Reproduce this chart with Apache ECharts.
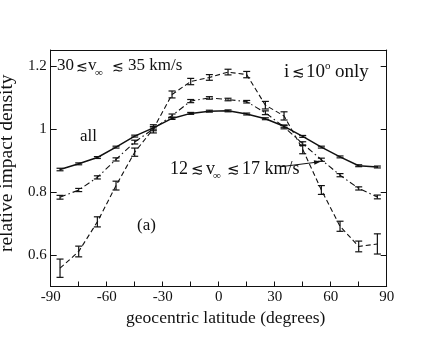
<!DOCTYPE html>
<html>
<head>
<meta charset="utf-8">
<script src="https://cdn.jsdelivr.net/npm/echarts@6/dist/echarts.min.js"></script>
<style>
  html, body { margin: 0; padding: 0; background: #fff; }
  #main { width: 436px; height: 337px; }
</style>
</head>
<body>
<div id="main"></div>
<script>
// latitude bins (degrees)
var lat = [-85, -75, -65, -55, -45, -35, -25, -15, -5, 5, 15, 25, 35, 45, 55, 65, 75, 85];

// "all" (solid)
var allVals = [0.871, 0.889, 0.909, 0.942, 0.977, 1.003, 1.033, 1.049, 1.056, 1.057, 1.047, 1.032, 1.008, 0.976, 0.942, 0.911, 0.883, 0.879];
var allErr  = [0.004, 0.003, 0.003, 0.003, 0.003, 0.004, 0.003, 0.003, 0.003, 0.003, 0.003, 0.003, 0.003, 0.003, 0.003, 0.003, 0.003, 0.003];

// 12 < v < 17 km/s (dash-dot)
var lowVals = [0.783, 0.806, 0.846, 0.903, 0.958, 1.000, 1.042, 1.088, 1.098, 1.093, 1.086, 1.051, 1.006, 0.953, 0.902, 0.853, 0.811, 0.784];
var lowErr  = [0.006, 0.005, 0.005, 0.005, 0.006, 0.006, 0.005, 0.005, 0.004, 0.004, 0.004, 0.006, 0.006, 0.006, 0.005, 0.005, 0.005, 0.006];

// 30 < v < 35 km/s (dashed)
var highVals = [0.558, 0.611, 0.705, 0.820, 0.926, 1.000, 1.109, 1.150, 1.163, 1.180, 1.172, 1.075, 1.041, 0.935, 0.806, 0.691, 0.627, 0.635];
var highErr  = [0.029, 0.017, 0.016, 0.014, 0.013, 0.013, 0.011, 0.010, 0.009, 0.009, 0.010, 0.012, 0.013, 0.014, 0.014, 0.016, 0.017, 0.032];

var yTicks = [0.6, 0.8, 1.0, 1.2];

var FONT = 'Liberation Serif, Times New Roman, serif';
var INK = '#111';

function pairs(vals) {
  return lat.map(function (x, i) { return [x, vals[i]]; });
}

// error bars via custom series
function errBars(vals, errs) {
  return {
    type: 'custom',
    silent: true,
    z: 4,
    data: lat.map(function (x, i) { return [x, vals[i] - errs[i], vals[i] + errs[i]]; }),
    encode: { x: 0, y: [1, 2] },
    renderItem: function (params, api) {
      var lo = api.coord([api.value(0), api.value(1)]);
      var hi = api.coord([api.value(0), api.value(2)]);
      var w = 3.5;
      var st = { stroke: INK, lineWidth: 1.2 };
      return {
        type: 'group',
        children: [
          { type: 'line', shape: { x1: lo[0], y1: lo[1], x2: hi[0], y2: hi[1] }, style: st },
          { type: 'line', shape: { x1: lo[0] - w, y1: lo[1], x2: lo[0] + w, y2: lo[1] }, style: st },
          { type: 'line', shape: { x1: hi[0] - w, y1: hi[1], x2: hi[0] + w, y2: hi[1] }, style: st }
        ]
      };
    }
  };
}

function lineSeries(vals, dash, width) {
  return {
    type: 'line',
    data: pairs(vals),
    symbol: 'none',
    silent: true,
    z: 3,
    lineStyle: { color: INK, width: width, type: dash }
  };
}

function txt(text, x, y, size) {
  return {
    type: 'text', x: x, y: y, silent: true,
    style: { text: text, fontSize: size, fontFamily: FONT, fill: INK, verticalAlign: 'middle', align: 'left' }
  };
}

var chart = echarts.init(document.getElementById('main'));

var option = {
  backgroundColor: '#fff',
  animation: false,
  grid: { left: 50.7, right: 49.3, top: 50, bottom: 50.5, outerBoundsMode: 'none' },
  xAxis: [{
    type: 'value', min: -90, max: 90, interval: 30,
    name: 'geocentric latitude (degrees)', nameLocation: 'middle', nameGap: 15,
    nameTextStyle: { fontFamily: FONT, fontSize: 17.5, color: INK, padding: [0, 0, 0, 14] },
    axisLine: { onZero: false, lineStyle: { color: INK, width: 1 } },
    axisTick: { inside: true, length: 5, lineStyle: { color: INK } },
    minorTick: { show: true, splitNumber: 2, length: 5, lineStyle: { color: INK } },
    axisLabel: { fontFamily: FONT, fontSize: 15, color: INK, margin: 3 },
    splitLine: { show: false }
  }, {
    type: 'value', position: 'top', min: -90, max: 90, interval: 30,
    axisLine: { show: true, onZero: false, lineStyle: { color: INK, width: 1 } },
    axisTick: { show: false }, axisLabel: { show: false }, splitLine: { show: false }
  }],
  yAxis: [{
    type: 'value', min: 0.5, max: 1.25,
    name: 'relative impact density', nameLocation: 'middle', nameGap: 26,
    nameTextStyle: { fontFamily: FONT, fontSize: 19.5, color: INK, padding: [0, 0, 0, 10] },
    axisLine: { show: true, onZero: false, lineStyle: { color: INK, width: 1 } },
    axisTick: { inside: true, length: 6, customValues: yTicks, lineStyle: { color: INK } },
    axisLabel: {
      fontFamily: FONT, fontSize: 15, color: INK, margin: 4, customValues: yTicks,
      formatter: function (v) { return Math.abs(v - 1) < 1e-9 ? '1' : v.toFixed(1); }
    },
    splitLine: { show: false }
  }, {
    type: 'value', position: 'right', min: 0.5, max: 1.25,
    axisLine: { show: true, onZero: false, lineStyle: { color: INK, width: 1 } },
    axisTick: { inside: true, length: 6, customValues: yTicks, lineStyle: { color: INK } },
    axisLabel: { show: false }, splitLine: { show: false }
  }],
  series: [
    lineSeries(allVals, 'solid', 1.5),
    lineSeries(lowVals, [6, 3, 1.5, 3], 1.1),
    lineSeries(highVals, [5, 3], 1.1),
    errBars(allVals, allErr),
    errBars(lowVals, lowErr),
    errBars(highVals, highErr)
  ],
  graphic: [
    // 30 < v_inf < 35 km/s
    txt('30', 57, 66, 17),
    txt('\u2272', 76, 67, 14),
    txt('v', 88, 66, 17),
    txt('\u221e', 95, 73, 11),
    txt('\u2272', 112, 67, 14),
    txt('35 km/s', 128, 66, 17),
    // i < 10 deg only
    txt('i', 284, 72, 19),
    txt('\u2272', 292, 73, 15),
    txt('10', 306, 72, 19),
    txt('o', 325, 66, 11),
    txt('only', 335, 72, 19),
    txt('all', 80, 137, 17),
    // 12 < v_inf < 17 km/s
    txt('12', 170, 169, 18),
    txt('\u2272', 191, 170, 15),
    txt('v', 206, 169, 18),
    txt('\u221e', 213, 176, 11),
    txt('\u2272', 227, 170, 15),
    txt('17 km/s', 242, 169, 18),
    txt('(a)', 137, 226, 17),
    {
      type: 'line', silent: true,
      shape: { x1: 281, y1: 166.7, x2: 315, y2: 162.4 },
      style: { stroke: INK, lineWidth: 1 }
    },
    {
      type: 'polygon', silent: true,
      shape: { points: [[321, 161.6], [314.4, 164.7], [313.8, 160.2]] },
      style: { fill: INK }
    }
  ]
};

chart.setOption(option);
</script>
</body>
</html>
